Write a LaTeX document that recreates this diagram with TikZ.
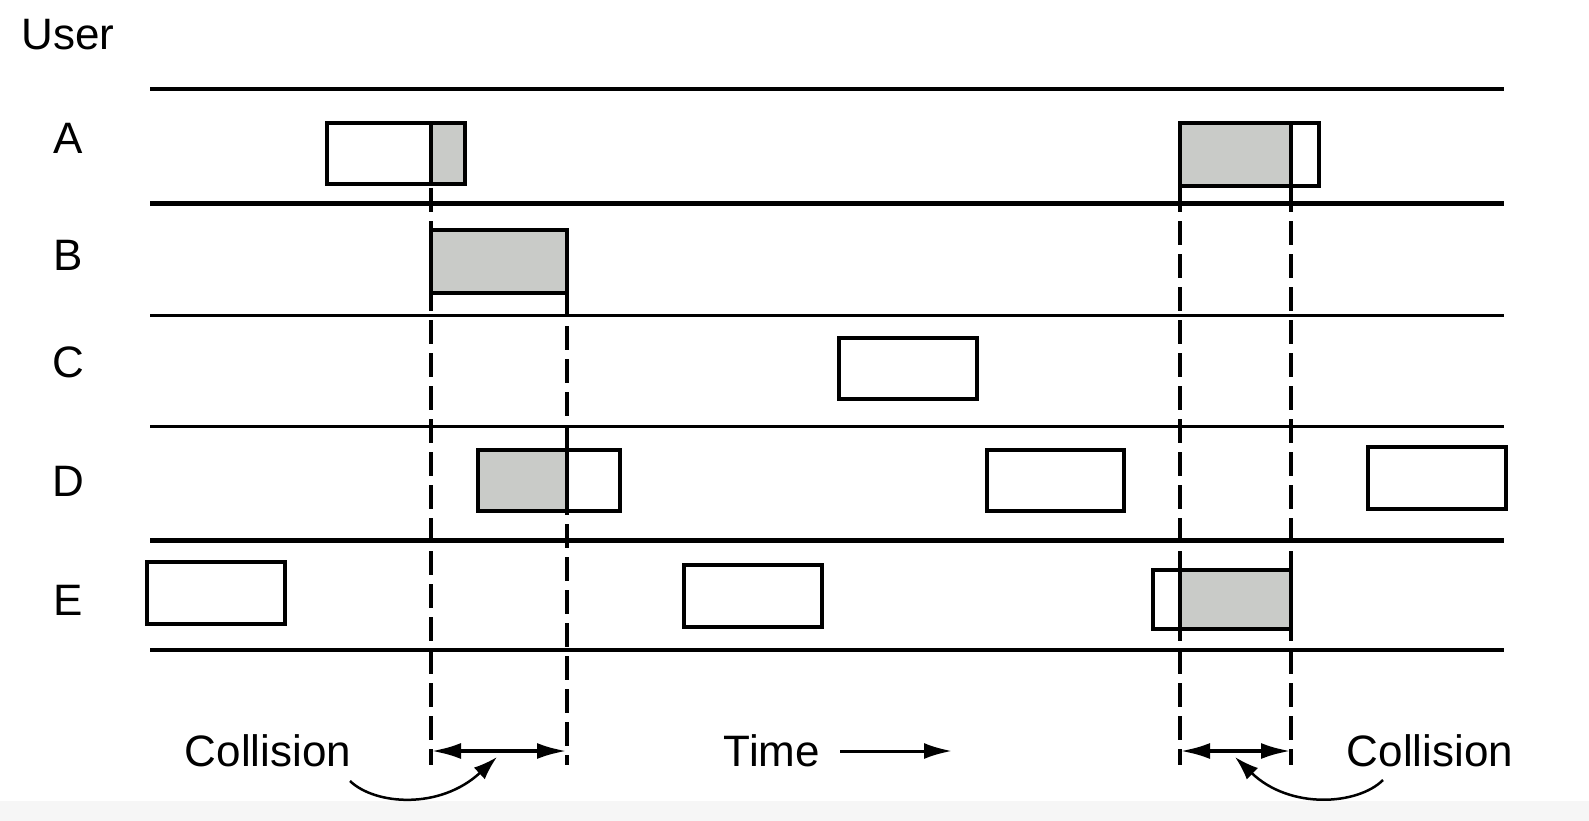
\documentclass[tikz,border=0pt]{standalone}
\usepackage{fontspec}
\setmainfont{Liberation Sans}
\usetikzlibrary{arrows.meta}
\definecolor{pktgray}{RGB}{201,203,200}
\definecolor{bandgray}{RGB}{246,246,246}

\begin{document}
\begin{tikzpicture}[x=1pt,y=-1pt,font=\fontsize{44}{50}\selectfont,
  frame/.style={line width=3.5pt},
  busy/.style={fill=pktgray},
  heavy/.style={line width=5pt},
  light/.style={line width=3pt},
  guide/.style={line width=3.5pt,dash pattern=on 24pt off 9pt},
  span/.style={line width=4pt,{Latex[length=30pt,width=16pt]}-{Latex[length=30pt,width=16pt]}}]
\useasboundingbox (0,0) rectangle (1589,821);
\fill[bandgray] (0,801) rectangle (1589,821);
\node[anchor=base] (user) at (68,50) {User};
\node[anchor=base] (lblA) at (68,154) {A};
\node[anchor=base] (lblB) at (68,270) {B};
\node[anchor=base] (lblC) at (68,377) {C};
\node[anchor=base] (lblD) at (68,496) {D};
\node[anchor=base] (lblE) at (68,615) {E};
\draw[line width=3.5pt] (150,89) -- (1504,89);
\draw[heavy] (150,203) -- (1504,203);
\draw[light] (150,315) -- (1504,315);
\draw[light] (150,426) -- (1504,426);
\draw[heavy] (150,540) -- (1504,540);
\draw[line width=4pt] (150,650) -- (1504,650);
\fill[busy] (431,123) rectangle (465,184);
\draw[frame] (327,123) rectangle (465,184) (431,123) -- (431,184);
\fill[busy] (1180,123) rectangle (1291,186);
\draw[frame] (1180,123) rectangle (1319,186) (1291,123) -- (1291,186);
\draw[frame,busy] (431,230) rectangle (567,293);
\draw[frame] (839,338) rectangle (977,399);
\fill[busy] (478,450) rectangle (567,511);
\draw[frame] (478,450) rectangle (620,511) (567,450) -- (567,511);
\draw[frame] (987,450) rectangle (1124,511);
\draw[frame] (1368,447) rectangle (1506,509);
\draw[frame] (147,562) rectangle (285,624);
\draw[frame] (684,565) rectangle (822,627);
\fill[busy] (1180,570) rectangle (1291,629);
\draw[frame] (1153,570) rectangle (1291,629) (1180,570) -- (1180,629);
\coordinate (t1) at (431,188);
\coordinate (b1) at (431,765);
\coordinate (t2) at (567,293);
\coordinate (b2) at (567,765);
\coordinate (t3) at (1180,188);
\coordinate (b3) at (1180,765);
\coordinate (t4) at (1291,188);
\coordinate (b4) at (1291,765);
\draw[guide] (t1) -- (b1);
\draw[guide] (t2) -- (b2);
\draw[guide] (t3) -- (b3);
\draw[guide] (t4) -- (b4);
\coordinate (s1) at (431,751);
\coordinate (e1) at (567,751);
\coordinate (s2) at (1180,751);
\coordinate (e2) at (1291,751);
\draw[span] (s1) -- (e1);
\draw[span] (s2) -- (e2);
\node[anchor=base] (collL) at (268,766) {Collision};
\node[anchor=base] (collR) at (1430,766) {Collision};
\node[anchor=base] (time) at (772,766) {Time};
\coordinate (tS) at (840,751);
\coordinate (tE) at (952,751);
\draw[line width=3pt,-{Latex[length=28pt,width=16pt]}] (tS) -- (tE);
\coordinate (cL) at (350,781);
\coordinate (hL) at (497,757);
\coordinate (cR) at (1383,780);
\coordinate (hR) at (1235,757);
\draw[line width=2.5pt,-{Latex[length=24pt,width=16pt]}] (cL) .. controls (375,805) and (440,810) .. (hL);
\draw[line width=2.5pt,-{Latex[length=24pt,width=16pt]}] (cR) .. controls (1358,805) and (1290,810) .. (hR);
\end{tikzpicture}
\end{document}
